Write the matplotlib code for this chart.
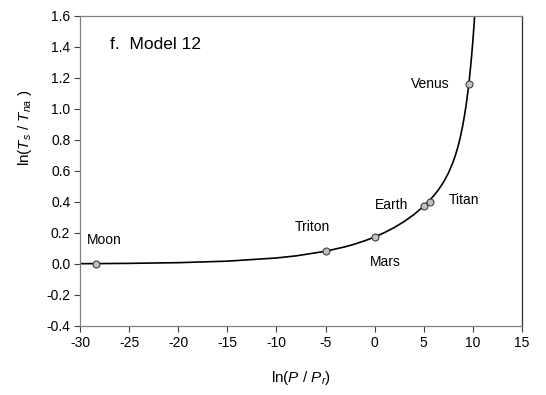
import numpy as np
import matplotlib
matplotlib.use("Agg")
import matplotlib.pyplot as plt

plt.rcParams['font.family'] = ['Liberation Sans', 'DejaVu Sans']
plt.rcParams['mathtext.fontset'] = 'custom'
plt.rcParams['mathtext.rm'] = 'Liberation Sans'
plt.rcParams['mathtext.it'] = 'Liberation Sans:italic'
plt.rcParams['axes.unicode_minus'] = False

# ── Data ────────────────────────────────────────────────────────────────────

curve_x = [-30, -28.5, -25, -20, -15, -10, -8, -5, -3, -2, -1, 0, 1, 2, 3, 4,
           5, 6, 6.5, 7, 7.5, 8, 8.25, 8.5, 8.75, 9, 9.2, 9.35, 9.5, 9.65,
           9.8, 9.9, 10, 10.1, 10.15, 10.2]
curve_y = [0.002, 0.0024, 0.0041, 0.0086, 0.0183, 0.0388, 0.0524, 0.0822,
           0.111, 0.129, 0.150, 0.174, 0.2025, 0.2354, 0.2739, 0.319,
           0.3727, 0.4391, 0.479, 0.527, 0.585, 0.660, 0.707, 0.761, 0.826,
           0.904, 0.978, 1.042, 1.115, 1.198, 1.292, 1.363, 1.440, 1.524,
           1.570, 1.617]

bodies   = ["Moon", "Triton", "Mars", "Earth", "Titan", "Venus"]
body_x   = [-28.4, -5.0, 0.0, 5.05, 5.6, 9.58]
body_y   = [0.0, 0.082, 0.174, 0.376, 0.40, 1.16]

# label anchors (data coords)
label_x  = [-29.3, -6.3, 1.1, 1.75, 9.05, 5.7]
label_y  = [0.155, 0.237, 0.013, 0.38, 0.413, 1.161]
label_ha = ["left", "center", "center", "center", "center", "center"]

# ── Plot ────────────────────────────────────────────────────────────────────

fig = plt.figure(figsize=(5.46, 3.95), dpi=100)
ax = fig.add_axes([0.1465, 0.1747, 0.8095, 0.7848])

ax.plot(curve_x, curve_y, color='black', lw=1.2, zorder=2)
ax.plot(body_x, body_y, 'o', ms=5, mfc='#c0c0c0', mec='#404040', mew=0.8, zorder=3)

for name, tx, ty, ha in zip(bodies, label_x, label_y, label_ha):
    ax.text(tx, ty, name, ha=ha, va='center', fontsize=10)

ax.text(-26.9, 1.413, "f.  Model 12", ha='left', va='center', fontsize=12.5)

ax.set_xlim(-30, 15)
ax.set_ylim(-0.4, 1.6)
ax.set_xticks(np.arange(-30, 16, 5))
ax.set_yticks(np.arange(-0.4, 1.61, 0.2))
ax.set_yticklabels([f"{v:.1f}" for v in np.arange(-0.4, 1.61, 0.2)])
ax.tick_params(direction='out', length=4, width=0.8, labelsize=10, pad=3,
               color='#404040')

for s in ['top', 'left', 'bottom']:
    ax.spines[s].set_color('#808080')
ax.spines['right'].set_color('#303030')
for s in ax.spines.values():
    s.set_linewidth(0.9)

ax.set_xlabel(r"ln($P$ / $P_r$)", fontsize=11)
ax.set_ylabel(r"ln($T_s$ / $T_{na}$ )", fontsize=11)
ax.xaxis.set_label_coords(0.5, -0.14)
ax.yaxis.set_label_coords(-0.104, 0.64)

fig.savefig("out.png", dpi=100)
